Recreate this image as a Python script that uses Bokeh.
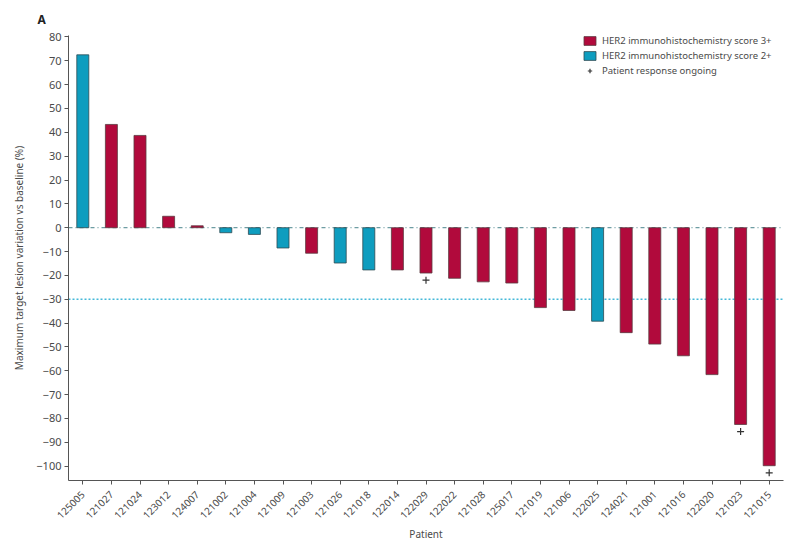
import math
from bokeh.plotting import figure
from bokeh.models import ColumnDataSource, Range1d, FactorRange, Span, Legend, LegendItem, FixedTicker
from bokeh.embed import file_html
from bokeh.resources import INLINE

# ---- data ----
patients = ["125005", "121027", "121024", "123012", "124007", "121002", "121004",
            "121009", "121003", "121026", "121018", "122014", "122029", "122022",
            "121028", "125017", "121019", "121006", "122025", "124021", "121001",
            "121016", "122020", "121023", "121015"]
variation = [72.5, 43.3, 38.7, 4.8, 0.8, -2.1, -2.8, -8.5, -10.7, -14.8, -17.7, -17.7,
             -19.0, -21.2, -22.7, -23.2, -33.5, -34.7, -39.2, -44.0, -48.8, -53.7,
             -61.6, -82.5, -99.8]
her2_score = ["2+", "3+", "3+", "3+", "3+", "2+", "2+", "2+", "3+", "2+", "2+", "3+",
              "3+", "3+", "3+", "3+", "3+", "3+", "2+", "3+", "3+", "3+", "3+", "3+", "3+"]
ongoing = ["122029", "121023", "121015"]
y_ticks = [80, 70, 60, 50, 40, 30, 20, 10, 0, -10, -20, -30, -40, -50, -60, -70, -80, -90, -100]
threshold = -30

RED = "#B10A3C"
BLUE = "#0E9DBF"
TXT = "#4a4a4a"
FONT = "Noto Sans"

src3 = ColumnDataSource(dict(x=[p for p, s in zip(patients, her2_score) if s == "3+"],
                             top=[v for v, s in zip(variation, her2_score) if s == "3+"]))
src2 = ColumnDataSource(dict(x=[p for p, s in zip(patients, her2_score) if s == "2+"],
                             top=[v for v, s in zip(variation, her2_score) if s == "2+"]))
plus_off = 3.0
srcp = ColumnDataSource(dict(x=ongoing,
                             y=[variation[patients.index(p)] - plus_off for p in ongoing]))

p = figure(x_range=FactorRange(factors=patients), y_range=Range1d(-106, 80.6),
           width=785, height=544, output_backend="svg", toolbar_location=None,
           min_border_left=68, min_border_right=2, min_border_top=35, min_border_bottom=60,
           title="A")
p.title.text_font = FONT
p.title.text_font_size = "12px"
p.title.text_font_style = "bold"
p.title.text_color = "#222222"
p.title.align = "left"
p.title.offset = -31
p.title.standoff = 15
p.outline_line_color = None
p.grid.visible = False

# reference lines (behind bars)
p.add_layout(Span(location=0, dimension="width", line_color="#6E9DA3", line_width=1.2,
                  line_dash="4 3 1 3", level="underlay"))
p.add_layout(Span(location=threshold, dimension="width", line_color="#45B8D8", line_width=1.3,
                  line_dash="2 2", level="underlay"))

r3 = p.vbar(x="x", top="top", bottom=0, width=0.42, source=src3, fill_color=RED,
            line_color="#5a3a40", line_width=0.8)
r2 = p.vbar(x="x", top="top", bottom=0, width=0.42, source=src2, fill_color=BLUE,
            line_color="#2f4a52", line_width=0.8)
rp = p.scatter(x="x", y="y", source=srcp, marker="cross", size=7, line_color="#333333",
               line_width=1.2)

# axes
p.yaxis.ticker = FixedTicker(ticks=y_ticks)
p.yaxis.axis_label = "Maximum target lesion variation vs baseline (%)"
for ax in (p.xaxis, p.yaxis):
    ax.axis_line_color = "#555555"
    ax.major_tick_line_color = "#555555"
    ax.minor_tick_line_color = None
    ax.major_tick_in = 0
    ax.major_tick_out = 4
    ax.major_label_text_font = FONT
    ax.major_label_text_color = TXT
    ax.axis_label_text_font = FONT
    ax.axis_label_text_font_style = "normal"
    ax.axis_label_text_color = TXT
    ax.axis_label_text_font_size = "10px"
p.yaxis.major_label_text_font_size = "11px"
p.yaxis.major_label_standoff = 3
p.yaxis.axis_label_standoff = 7
p.xaxis.major_label_text_font_size = "10px"
p.xaxis.major_label_orientation = math.pi / 4
p.xaxis.major_label_standoff = 8
p.xaxis.axis_label = "Patient"
p.xaxis.axis_label_standoff = 2

legend = Legend(items=[LegendItem(label="HER2 immunohistochemistry score 3+", renderers=[r3]),
                       LegendItem(label="HER2 immunohistochemistry score 2+", renderers=[r2]),
                       LegendItem(label="Patient response ongoing", renderers=[rp])],
                location=(514, 403), padding=0, margin=0, spacing=1,
                label_height=14, glyph_height=11, glyph_width=15, label_standoff=5,
                label_text_font=FONT, label_text_font_size="9.5px", label_text_color=TXT,
                background_fill_alpha=0, border_line_color=None)
p.add_layout(legend)

open("out.html", "w").write(file_html(p, INLINE))
